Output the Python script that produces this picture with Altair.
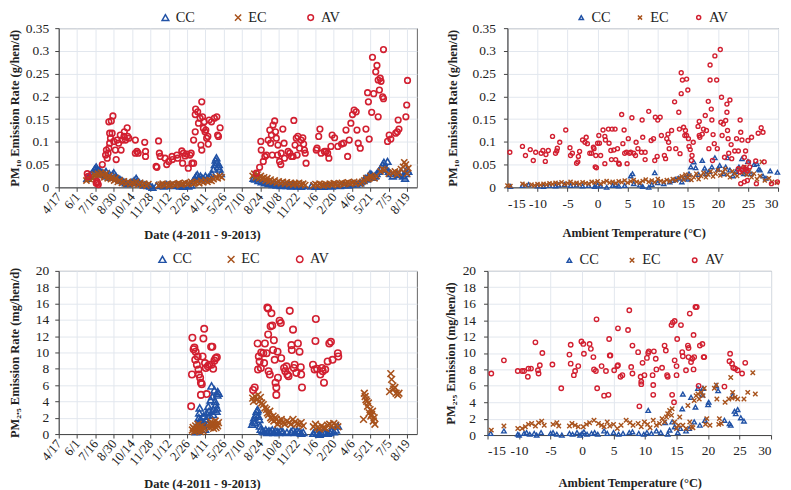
import altair as alt
import pandas as pd

FONT = "Liberation Serif"
SERIES = ["CC", "EC", "AV"]
COLORS = ["#2152a6", "#a8521c", "#d21f30"]
XPATH = "M-1,-1L1,1M-1,1L1,-1"
SHAPES = ["triangle-up", XPATH, "circle"]

# date axis: days since 2011-04-17, ticks every 45 days
DATE_LABELS = ["4/17", "6/1", "7/16", "8/30", "10/14", "11/28", "1/12", "2/26", "4/11", "5/26",
               "7/10", "8/24", "10/8", "11/22", "1/6", "2/20", "4/6", "5/21", "7/5", "8/19"]
DATE_TICKS = [0, 45, 90, 135, 180, 225, 270, 315, 360, 405, 450, 495, 540, 585, 630, 675, 720, 765, 810, 855]
DATE_MAX = 879
TEMP_TICKS = [-15, -10, -5, 0, 5, 10, 15, 20, 25, 30]
PM10_TICKS = [0, 0.05, 0.1, 0.15, 0.2, 0.25, 0.3, 0.35]
PM25_TICKS = [0, 2, 4, 6, 8, 10, 12, 14, 16, 18, 20]

# ---------- PM10 vs date (day, g/hen/d) ----------
pm10_date_cc = [(70,0.02),(75,0.025),(80,0.03),(85,0.035),(88,0.04),(90,0.042),(92,0.045),(95,0.04),(98,0.035),(100,0.038),
    (103,0.03),(106,0.033),(110,0.028),(113,0.03),(116,0.035),(120,0.025),(124,0.03),(128,0.022),(132,0.028),(135,0.032),
    (140,0.025),(145,0.02),(150,0.018),(155,0.015),(160,0.012),(165,0.01),(170,0.008),(175,0.01),(180,0.012),(185,0.015),
    (190,0.02),(193,0.015),(198,0.01),(205,0.008),(210,0.005),(218,0.004),(225,0.003),(230,0.0),(240,0.004),(250,0.005),
    (258,0.003),(265,0.006),(272,0.005),(280,0.004),(290,0.005),(298,0.003),(305,0.002),(312,0.006),(318,0.003),(325,0.005),
    (330,0.015),(334,0.02),(337,0.025),(340,0.028),(344,0.022),(348,0.025),(352,0.02),(356,0.018),(360,0.025),(364,0.02),
    (368,0.022),(372,0.025),(376,0.03),(380,0.04),(383,0.05),(385,0.06),(387,0.065),(389,0.055),(391,0.045),(393,0.05),
    (395,0.04),(398,0.03),
    (478,0.02),(482,0.018),(486,0.022),(490,0.015),(494,0.02),(498,0.012),(502,0.015),(506,0.01),(510,0.012),(515,0.008),
    (520,0.01),(525,0.006),(530,0.008),(535,0.005),(540,0.007),(545,0.004),(550,0.006),(555,0.005),(560,0.004),(565,0.006),
    (570,0.003),(575,0.005),(580,0.004),(585,0.003),(590,0.005),(595,0.002),(600,0.004),(620,0.003),(630,0.002),(640,0.003),
    (650,0.002),(660,0.004),(670,0.003),(680,0.005),(690,0.004),(700,0.006),(710,0.005),(720,0.008),(730,0.007),(740,0.01),
    (748,0.015),(752,0.02),(756,0.018),(760,0.025),(764,0.03),(768,0.028),(772,0.022),(776,0.025),(780,0.03),(785,0.035),
    (790,0.04),(795,0.05),(798,0.055),(800,0.045),(805,0.04),(807,0.057),(810,0.035),(815,0.03),(820,0.025),(830,0.03),
    (835,0.028),(840,0.035),(845,0.025),(850,0.02),(852,0.03),(855,0.04),(858,0.035)]
pm10_date_ec = [(68,0.015),(72,0.02),(76,0.018),(80,0.025),(84,0.02),(88,0.028),(92,0.022),(96,0.03),(100,0.025),(104,0.032),
    (108,0.028),(112,0.022),(116,0.03),(120,0.02),(124,0.025),(128,0.018),(132,0.022),(136,0.015),(140,0.02),(145,0.012),
    (150,0.015),(155,0.01),(160,0.013),(165,0.008),(170,0.012),(175,0.007),(180,0.01),(185,0.008),(190,0.012),(195,0.006),
    (200,0.01),(205,0.005),(210,0.008),(215,0.004),(220,0.007),(245,0.004),(250,0.006),(255,0.008),(260,0.005),(265,0.007),
    (270,0.004),(275,0.006),(280,0.008),(285,0.005),(290,0.007),(295,0.009),(300,0.006),(305,0.008),(310,0.01),(315,0.007),
    (320,0.009),(325,0.012),(330,0.008),(335,0.01),(340,0.012),(345,0.009),(350,0.014),(355,0.011),(360,0.015),(365,0.012),
    (370,0.016),(375,0.014),(380,0.018),(385,0.022),(390,0.02),(395,0.025),(400,0.022),
    (476,0.025),(480,0.03),(484,0.022),(488,0.028),(492,0.02),(496,0.025),(500,0.018),(504,0.022),(508,0.015),(512,0.02),
    (516,0.013),(520,0.017),(525,0.012),(530,0.015),(535,0.01),(540,0.013),(545,0.009),(550,0.012),(555,0.008),(560,0.011),
    (565,0.007),(570,0.01),(575,0.006),(580,0.009),(585,0.007),(590,0.01),(595,0.006),(600,0.008),(605,0.005),(625,0.004),
    (630,0.007),(635,0.005),(640,0.008),(645,0.006),(650,0.004),(655,0.007),(660,0.005),(665,0.008),(670,0.006),(675,0.009),
    (680,0.007),(685,0.005),(690,0.008),(695,0.01),(700,0.007),(705,0.009),(710,0.011),(715,0.008),(720,0.01),(725,0.012),
    (730,0.009),(740,0.008),(745,0.012),(750,0.015),(755,0.02),(760,0.018),(765,0.025),(770,0.022),(775,0.02),(780,0.025),
    (790,0.035),(795,0.04),(800,0.038),(810,0.03),(820,0.032),(825,0.035),(830,0.028),(835,0.032),(840,0.04),(845,0.045),
    (848,0.055),(852,0.05),(855,0.03),(858,0.042)]
pm10_date_av = [(70,0.030),(72,0.024),(92,0.009),(94,0.013),(97,0.006),(95,0.010),(107,0.050),(115,0.071),(117,0.082),(119,0.064),
    (121,0.075),(123,0.086),(125,0.097),(127,0.108),(125,0.119),(123,0.144),(129,0.146),(133,0.157),(131,0.119),(135,0.101),
    (139,0.082),(141,0.061),(143,0.104),(147,0.097),(151,0.115),(153,0.082),(156,0.104),(160,0.112),(161,0.122),(164,0.104),
    (168,0.131),(169,0.112),(172,0.108),(188,0.104),(192,0.079),(195,0.075),(188,0.075),(211,0.099),(213,0.079),(213,0.068),
    (239,0.046),(241,0.044),(245,0.102),(247,0.075),(249,0.068),(261,0.064),(265,0.050),(270,0.057),(278,0.068),(279,0.061),
    (290,0.071),(292,0.064),(302,0.080),(304,0.053),(306,0.075),(310,0.069),(314,0.073),(318,0.042),(322,0.071),(327,0.053),
    (331,0.053),(325,0.075),(331,0.104),(335,0.122),(335,0.160),(336,0.172),(341,0.166),(343,0.141),(347,0.152),(351,0.188),
    (353,0.155),(355,0.130),(357,0.144),(359,0.122),(361,0.126),(363,0.108),(366,0.112),(367,0.095),(351,0.082),(349,0.093),
    (369,0.148),(375,0.144),(382,0.152),(388,0.155),(390,0.115),(392,0.112),(396,0.131),
    (485,0.031),(493,0.044),(497,0.082),(496,0.101),(502,0.057),(506,0.068),(510,0.071),(514,0.104),(518,0.126),(520,0.097),
    (522,0.115),(524,0.071),(526,0.137),(530,0.146),(532,0.122),(534,0.108),(537,0.071),(538,0.093),(542,0.057),(545,0.050),
    (546,0.075),(550,0.128),(553,0.097),(554,0.064),(563,0.079),(567,0.075),(571,0.068),(575,0.068),(577,0.147),(580,0.093),
    (583,0.108),(585,0.071),(587,0.112),(591,0.086),(595,0.104),(599,0.109),(601,0.095),(603,0.082),(605,0.075),(607,0.053),
    (632,0.082),(634,0.086),(638,0.112),(641,0.128),(644,0.075),(652,0.079),(656,0.079),(660,0.075),(663,0.064),(668,0.090),
    (671,0.115),(677,0.109),(685,0.090),(694,0.095),(699,0.097),(705,0.126),(709,0.068),(713,0.104),(717,0.141),(721,0.160),
    (725,0.170),(730,0.166),(732,0.126),(735,0.097),(740,0.086),(754,0.128),(758,0.208),(760,0.188),(762,0.106),(768,0.165),
    (770,0.286),(773,0.206),(778,0.254),(781,0.268),(784,0.236),(787,0.214),(789,0.240),(791,0.233),(795,0.199),(797,0.195),
    (784,0.155),(797,0.303),(807,0.101),(811,0.115),(815,0.106),(827,0.119),(831,0.122),(835,0.128),(833,0.148),(852,0.155),
    (854,0.181),(856,0.235)]

# ---------- PM10 vs ambient temperature (deg C, g/hen/d) ----------
pm10_temp_cc = [(-14.5,0.002),(-12.5,0.004),(-11.5,0.006),(-10,0.003),(-9,0.002),(-8,0.004),(-7,0.003),(-6.5,0.005),(-5.5,0.006),
    (-4.5,0.004),(-3.5,0.005),(-2.5,0.003),(-1.5,0.004),(-0.5,0.002),(0,0.005),(0.5,0.003),(1.5,0.0),(2.5,0.004),(3,0.006),
    (3.5,0.003),(4.5,0.004),(5.5,0.025),(5.8,0.03),(6,0.008),(7,0.005),(7.5,0.002),(8.5,0.0),(9.5,0.032),(9,0.006),(10,0.01),
    (11,0.008),(12,0.012),(12.5,0.015),(13,0.018),(13.5,0.02),(14,0.012),(14.5,0.022),(15,0.018),(15.5,0.045),(16,0.056),
    (16.3,0.043),(16.8,0.028),(17.4,0.059),(17.8,0.042),(18.5,0.035),(19,0.045),(19.5,0.065),(20,0.04),(20.3,0.048),(21,0.03),
    (21.6,0.065),(22,0.038),(22.5,0.025),(23,0.035),(23.5,0.045),(24,0.063),(24.5,0.04),(25,0.057),(25.5,0.03),(26,0.05),
    (26.5,0.052),(27,0.038),(27.5,0.025),(28,0.02),(28.7,0.036),(29.9,0.033),(15.2,0.03),(18,0.03),(21.3,0.045),(24.3,0.03),
    (26.8,0.04)]
pm10_temp_ec = [(-15,0.004),(-14.5,0.003),(-12.5,0.008),(-12,0.005),(-11,0.006),(-10.5,0.004),(-10,0.007),(-9.5,0.005),(-9,0.008),
    (-8.5,0.006),(-8,0.009),(-7.5,0.007),(-7,0.01),(-6.5,0.008),(-6,0.011),(-5.5,0.007),(-5,0.009),(-4.5,0.012),(-4,0.008),
    (-3.5,0.01),(-3,0.007),(-2.5,0.011),(-2,0.009),(-1.5,0.008),(-1,0.012),(-0.5,0.01),(0,0.013),(0.5,0.008),(1,0.011),
    (1.5,0.014),(2,0.01),(2.5,0.012),(3,0.009),(3.5,0.013),(4,0.011),(4.5,0.015),(5,0.01),(5.5,0.013),(6,0.016),(6.5,0.012),
    (7,0.01),(7.5,0.014),(8,0.017),(8.5,0.012),(9,0.015),(9.5,0.011),(10,0.018),(10.5,0.014),(11,0.012),(11.5,0.016),
    (12,0.013),(12.5,0.018),(13,0.015),(13.5,0.02),(14,0.024),(14.3,0.017),(14.6,0.028),(15,0.021),(15.3,0.026),(15.6,0.016),
    (16,0.022),(16.4,0.03),(16.8,0.018),(17.2,0.025),(17.6,0.032),(18,0.022),(18.4,0.028),(18.8,0.035),(19.2,0.024),
    (19.6,0.03),(20,0.038),(20.4,0.026),(20.8,0.033),(21.2,0.04),(21.6,0.028),(22,0.022),(22.4,0.035),(22.8,0.03),
    (23.2,0.025),(23.6,0.04),(24,0.032),(24.4,0.045),(24.8,0.028),(25.2,0.035),(25.6,0.022),(26,0.03),(26.5,0.018),
    (27,0.025),(27.3,0.056),(27.8,0.015),(28.5,0.02),(29,0.012),(29.8,0.01)]
pm10_temp_av = [(-14.6,0.077),(-12.5,0.090),(-12.0,0.070),(-11.2,0.083),(-10.7,0.059),(-10.3,0.077),(-9.4,0.075),(-9.1,0.081),
    (-8.7,0.057),(-8.6,0.072),(-8.2,0.081),(-7.5,0.112),(-7.0,0.075),(-6.8,0.080),(-6.7,0.086),(-6.3,0.099),(-5.3,0.126),
    (-4.6,0.087),(-4.5,0.070),(-4.2,0.075),(-3.5,0.053),(-3.3,0.056),(-3.2,0.068),(-3.0,0.079),(-2.5,0.104),(-2.1,0.099),
    (-1.9,0.110),(-1.7,0.096),(-1.3,0.075),(-1.0,0.075),(-0.7,0.088),(-0.6,0.085),(-0.4,0.045),(-0.2,0.043),(-0.3,0.070),
    (0.0,0.097),(0.2,0.114),(0.3,0.097),(0.5,0.070),(0.9,0.126),(1.2,0.112),(1.3,0.104),(1.2,0.052),(1.8,0.128),(1.9,0.097),
    (2.2,0.081),(2.3,0.061),(2.4,0.128),(2.7,0.082),(2.9,0.128),(3.0,0.061),(3.3,0.085),(3.5,0.053),(3.6,0.051),(4.0,0.160),
    (4.2,0.096),(4.4,0.126),(4.5,0.075),(4.8,0.077),(4.9,0.052),(5.1,0.107),(5.3,0.075),(5.5,0.077),(5.7,0.153),(6.0,0.075),
    (6.3,0.070),(6.4,0.099),(6.7,0.085),(7.4,0.148),(7.5,0.110),(7.3,0.077),(7.9,0.061),(8.5,0.167),(7.9,0.077),(8.9,0.103),
    (9.3,0.107),(9.5,0.059),(9.6,0.154),(9.9,0.068),(10.0,0.148),(10.4,0.154),(10.6,0.114),(11.1,0.070),(11.3,0.063),
    (11.5,0.107),(11.7,0.117),(11.8,0.099),(11.9,0.085),(12.3,0.125),(12.8,0.188),(13.0,0.085),(13.5,0.165),(13.6,0.128),
    (13.7,0.074),(13.9,0.252),(13.9,0.206),(14.1,0.236),(14.3,0.132),(14.5,0.114),(14.6,0.125),(14.8,0.238),(15.0,0.214),
    (14.8,0.114),(15.1,0.107),(15.2,0.090),(15.4,0.083),(15.6,0.059),(15.7,0.070),(15.9,0.099),(16.7,0.134),(16.9,0.145),
    (16.9,0.114),(17.0,0.110),(17.4,0.117),(17.6,0.128),(17.9,0.158),(18.1,0.125),(18.4,0.189),(18.5,0.085),(18.7,0.269),
    (18.7,0.236),(18.9,0.172),(19.0,0.148),(19.1,0.059),(19.2,0.116),(19.4,0.096),(19.5,0.289),(19.8,0.236),(19.9,0.085),
    (20.4,0.303),(20.5,0.143),(20.6,0.198),(20.7,0.114),(20.9,0.139),(21.1,0.066),(21.3,0.147),(21.5,0.183),(21.5,0.165),
    (21.6,0.125),(21.7,0.107),(21.8,0.075),(22.0,0.192),(22.2,0.094),(22.3,0.063),(22.8,0.080),(23.1,0.107),(23.4,0.080),
    (23.7,0.148),(23.8,0.121),(24.0,0.104),(24.4,0.066),(24.6,0.080),(25.0,0.103),(25.1,0.056),(25.3,0.045),(25.6,0.110),
    (26.3,0.058),(26.7,0.119),(27.2,0.131),(27.5,0.121),(27.7,0.056),(23.8,0.008),(24.4,0.012),(24.9,0.015),(26.4,0.008),
    (28.9,0.008),(29.9,0.012),(23.4,0.041),(23.7,0.034),(24.0,0.038),(24.3,0.044),(24.6,0.040),(24.9,0.036)]

# ---------- PM2.5 vs date (day, mg/hen/d) ----------
pm25_date_cc = [(335,0.8),(337,0.3),(339,0.4),(341,1.0),(343,1.2),(344,2.0),(345,2.6),(346,3.2),(347,1.8),(349,0.6),(351,1.6),
    (353,1.1),(355,2.2),(357,1.4),(359,0.6),(361,1.8),(363,2.6),(365,1.2),(367,3.4),(369,2.8),(371,2.3),(373,4.2),(375,5.9),
    (377,4.6),(379,2.4),(380,3.0),(382,5.4),(384,4.0),(385,3.6),(387,2.8),(388,3.2),(389,4.8),(390,5.2),(392,5.0),
    (475,1.2),(478,1.6),(480,2.0),(482,1.4),(484,2.4),(486,2.8),(488,3.0),(490,2.2),(492,1.8),(494,1.0),(496,0.6),(500,0.4),
    (504,0.3),(508,0.5),(512,0.2),(516,0.4),(520,0.3),(524,0.5),(528,0.2),(532,0.4),(536,0.3),(540,0.2),(545,0.4),(550,0.3),
    (560,0.2),(570,0.3),(575,0.5),(580,0.2),(585,0.4),(590,0.3),(595,0.1),(600,0.2),(625,0.1),(630,0.3),(635,0.2),(640,0.0),
    (645,0.1),(650,0.3),(655,0.2),(660,0.1),(665,0.2),(670,0.4),(675,0.3),(680,0.5),(685,1.0)]
pm25_date_ec = [(328,0.5),(330,0.8),(332,0.3),(334,0.6),(336,1.0),(338,0.4),(340,0.7),(342,1.2),(344,0.5),(346,0.9),(348,0.3),
    (350,0.6),(352,1.0),(354,0.4),(356,0.7),(370,0.8),(372,1.2),(374,1.5),(376,0.9),(378,1.3),(380,0.7),(382,1.1),(384,1.6),
    (386,0.8),(388,1.2),(390,1.0),(392,1.4),
    (476,4.4),(478,4.0),(482,4.6),(486,4.2),(489,4.8),(492,4.0),(495,4.5),(498,3.8),(502,3.6),(506,3.2),(510,3.0),(512,2.6),
    (515,2.4),(518,2.8),(520,2.0),(523,1.8),(526,2.2),(528,1.6),(531,2.0),(534,1.8),(537,1.2),(540,1.6),(543,1.4),(546,1.8),
    (550,1.4),(555,1.2),(560,1.6),(565,1.4),(570,1.2),(575,1.8),(580,1.5),(585,1.3),(590,1.2),(595,1.4),(600,1.0),(625,0.9),
    (630,1.2),(635,0.8),(640,0.6),(645,1.0),(650,0.8),(655,0.7),(660,1.1),(665,1.2),(670,1.0),(675,1.3),(680,1.1),(685,0.9),
    (748,1.8),(750,5.0),(752,4.6),(754,4.2),(756,4.0),(758,3.4),(760,3.8),(762,2.6),(764,3.0),(766,2.2),(768,2.4),(770,2.8),
    (772,1.6),(774,2.0),(776,1.2),
    (812,5.2),(815,7.4),(817,6.7),(820,5.9),(822,5.5),(825,5.7),(828,5.0),(832,4.8),(835,5.0)]
pm25_date_av = [(325,3.4),(327,7.3),(328,11.8),(331,10.4),(333,10.6),(335,9.1),(336,10.1),(339,8.5),(341,9.5),(343,7.9),
    (344,7.3),(347,6.9),(349,6.3),(351,6.1),(349,4.8),(353,9.5),(355,11.7),(357,12.9),(359,8.7),(361,8.1),(363,4.9),(366,8.3),
    (369,8.5),(374,10.7),(377,10.7),(379,8.0),(382,9.0),(385,9.3),(388,9.4),(375,8.5),
    (477,5.4),(481,5.7),(488,11.1),(489,7.9),(491,9.5),(493,8.9),(496,8.1),(497,10.0),(502,9.9),(504,8.7),(506,11.1),(510,9.9),
    (512,15.5),(514,15.4),(514,12.2),(515,7.7),(518,7.3),(520,13.2),(522,14.8),(524,13.3),(526,10.3),(528,11.5),(530,9.1),
    (532,6.3),(534,5.7),(534,4.8),(537,10.1),(538,6.9),(542,13.9),(545,13.6),(546,9.3),(553,8.1),(556,7.7),(559,8.3),(561,7.3),
    (564,7.1),(567,15.1),(571,10.9),(572,10.3),(575,12.8),(577,8.1),(579,8.5),(583,7.5),(587,11.1),(591,10.1),(594,8.2),
    (595,7.3),(597,5.7),(624,8.5),(628,7.9),(630,11.4),(631,14.1),(634,8.0),(642,7.3),(646,8.1),(648,7.7),(651,6.3),(654,7.9),
    (660,8.9),(664,11.1),(668,11.3),(672,9.1),(685,9.9),(686,9.5)]

# ---------- PM2.5 vs ambient temperature (deg C, mg/hen/d) ----------
pm25_temp_cc = [(-14.5,0.2),(-12.4,0.5),(-10.2,0.1),(-10,0.0),(-9.2,0.2),(-8.8,0.3),(-8.3,0.1),(-7.6,0.2),(-7.2,0.0),(-6.5,0.3),
    (-5.0,0.2),(-4.6,0.3),(-4.0,0.1),(-3.2,0.0),(-2.0,0.2),(-1.5,0.1),(-0.8,0.3),(-0.3,0.0),(0,0.2),(0.3,0.4),(0.8,0.1),
    (1.5,0.2),(2.0,0.3),(2.5,0.1),(3.5,0.5),(4.0,0.2),(5.0,0.3),(5.8,0.1),(6.5,0.2),(7.5,0.3),(8.0,0.4),(9.0,0.2),(9.8,0.1),
    (10.5,3.0),(10.3,0.3),(11.0,0.2),(11.8,0.5),(12.5,0.3),(13.2,1.5),(13.6,0.1),(13.9,0.6),(14.3,1.6),(14.7,1.0),(15.2,0.3),
    (15.6,0.8),(15.9,3.2),(16.0,5.0),(16.5,0.5),(17.0,0.8),(17.3,4.6),(17.8,1.6),(18.0,3.4),(18.4,5.7),(18.7,1.2),(19.1,4.9),
    (19.2,5.7),(19.5,1.8),(20.0,3.7),(20.1,4.0),(21.3,6.0),(21.6,5.4),(22.6,1.8),(23.4,1.4),(23.6,1.2),(23.9,4.8),(24.2,2.9),
    (24.4,2.6),(24.7,3.1),(25.2,2.1),(25.7,1.7)]
pm25_temp_ec = [(-14.4,0.6),(-12.4,1.1),(-10.2,0.8),(-9.5,0.8),(-9.0,1.0),(-8.5,1.3),(-8.0,1.4),(-7.4,1.1),(-6.9,1.5),(-6.4,1.7),
    (-6.0,1.2),(-4.6,1.3),(-4.0,1.5),(-3.7,1.1),(-2.0,1.1),(-1.6,1.4),(-1.1,1.2),(-0.6,1.0),(0.2,1.0),(0.7,1.3),(1.2,1.5),
    (1.9,1.8),(2.6,1.4),(3.1,1.2),(3.5,1.0),(4.0,1.6),(4.4,1.1),(5.0,1.3),(5.6,0.8),(6.2,1.2),(7.0,1.8),(7.6,1.5),(8.1,1.2),
    (8.9,1.4),(9.4,1.0),(9.9,1.6),(10.4,1.3),(10.8,0.9),(11.3,1.8),(11.8,1.2),(12.3,1.4),(12.7,2.0),(13.1,1.6),(13.4,2.2),
    (13.6,2.6),(13.9,3.0),(14.2,2.4),(14.3,3.2),(14.7,1.6),(15.0,0.8),(15.3,1.2),(15.5,2.2),(16.0,1.2),(16.5,0.8),(16.8,3.6),
    (17.1,1.6),(17.4,1.0),(17.6,0.9),(17.8,4.2),(18.1,4.8),(18.4,5.0),(18.6,4.4),(18.9,5.2),(19.2,4.8),(19.4,5.7),(19.6,1.3),
    (19.8,2.0),(20.3,1.2),(21.0,5.7),(21.3,6.1),(21.4,4.4),(21.8,2.0),(22.1,1.4),(22.7,4.0),(23.3,4.4),(23.6,7.0),(23.8,4.5),
    (23.9,5.2),(24.3,4.6),(24.7,4.4),(25.7,4.4),(26.3,5.2),(27.1,7.6),(27.5,5.0),(21.7,1.3)]
pm25_temp_av = [(-14.4,7.5),(-12.4,9.1),(-10.2,7.8),(-9.5,7.8),(-9.2,7.8),(-8.6,7.1),(-8.5,8.1),(-8.1,8.1),(-7.4,11.3),(-7.0,7.9),
    (-6.9,7.5),(-6.7,8.5),(-6.3,10.0),(-4.7,8.6),(-3.3,5.7),(-2.0,9.8),(-1.8,11.0),(-1.8,8.7),(-1.3,7.3),(-1.1,7.8),(-0.6,8.4),
    (-0.1,11.4),(0.2,11.1),(0.3,9.9),(1.2,11.1),(1.4,10.5),(1.8,9.5),(1.9,8.0),(2.2,7.8),(2.3,14.1),(2.4,5.7),(3.1,8.4),
    (3.5,4.8),(3.8,7.8),(4.2,4.9),(4.3,11.7),(4.4,9.7),(4.5,9.7),(5.1,7.9),(5.6,8.4),(5.7,13.0),(5.7,8.5),(6.1,7.1),(6.4,7.3),
    (7.3,12.8),(7.5,15.2),(7.8,8.3),(8.0,10.9),(8.0,7.5),(8.9,10.1),(9.1,3.5),(9.3,7.1),(9.4,6.5),(9.4,6.2),(9.6,8.8),(9.9,7.3),
    (10.3,9.4),(10.5,10.0),(10.6,10.2),(11.2,7.3),(11.3,6.1),(11.3,4.9),(11.4,10.2),(11.7,9.3),(11.8,8.0),(12.7,8.2),(13.1,10.9),
    (13.3,10.3),(13.5,7.3),(13.6,7.1),(14.2,13.4),(14.3,4.9),(14.4,13.7),(14.6,4.0),(14.7,13.9),(14.7,9.1),(15.0,7.3),(15.0,8.4),
    (15.1,11.7),(15.7,13.4),(15.9,10.1),(16.0,9.6),(16.5,7.9),(16.8,10.9),(16.9,10.6),(16.9,9.5),(17.1,14.8),(17.3,8.9),
    (17.5,9.3),(17.7,12.2),(17.7,8.0),(17.8,9.5),(18.0,15.6),(18.2,15.6),(18.5,6.0),(18.7,10.9),(19.1,11.1),(19.3,9.5),
    (19.4,9.5),(22.6,5.9),(23.5,9.9),(23.4,9.0),(23.8,8.7),(24.0,8.2),(24.3,8.1),(24.7,7.9),(25.4,7.5),(25.9,8.8)]


def frame(cc, ec, av):
    rows = []
    for name, pts in zip(SERIES, [cc, ec, av]):
        for x, y in pts:
            rows.append({"x": x, "y": y, "series": name})
    return pd.DataFrame(rows)


DATE_EXPR = "[" + ",".join("'" + s + "'" for s in DATE_LABELS) + "][round(datum.value / 45)]"
TEMP_EXPR = "(datum.value < 0 ? '-' : '') + abs(datum.value)"


def date_axis(title_y):
    return alt.Axis(values=DATE_TICKS, labelExpr=DATE_EXPR, labelAngle=310, labelAlign="right",
                    labelBaseline="middle", labelPadding=3, labelFontSize=13, labelOverlap=False,
                    title="Date (4-2011 - 9-2013)",
                    titleX=144, titleY=title_y, titleBaseline="middle", titleAlign="center")


def temp_axis(title_x, title_y):
    return alt.Axis(values=TEMP_TICKS, labelExpr=TEMP_EXPR, labelPadding=5, labelOverlap=False,
                    title="Ambient Temperature (°C)",
                    titleX=title_x, titleY=title_y, titleBaseline="middle", titleAlign="center")


def y_axis(values, fmt, title, tx, h, pad):
    return alt.Axis(values=values, format=fmt, title=title, titleX=tx, titleY=h / 2, titleAngle=270,
                    titleBaseline="middle", titleAlign="center", labelPadding=pad, labelOverlap=False)


def panel(df, xscale, xaxis, ydomain, yaxis, sizes, sw, legend, w, h):
    return alt.Chart(df).mark_point(filled=False, strokeWidth=sw, opacity=1).encode(
        x=alt.X("x:Q", scale=xscale, axis=xaxis),
        y=alt.Y("y:Q", scale=alt.Scale(domain=ydomain, nice=False, zero=False), axis=yaxis),
        color=alt.Color("series:N", scale=alt.Scale(domain=SERIES, range=COLORS), legend=legend),
        shape=alt.Shape("series:N", scale=alt.Scale(domain=SERIES, range=SHAPES), legend=legend),
        size=alt.Size("series:N", scale=alt.Scale(domain=SERIES, range=sizes), legend=None),
    ).properties(width=w, height=h)


def legend(lx, ly, ssize, pad):
    return alt.Legend(title=None, orient="none", legendX=lx, legendY=ly, direction="horizontal",
                      labelFont=FONT, labelFontSize=14.5, labelColor="#222", symbolSize=ssize,
                      symbolStrokeWidth=1.5, columnPadding=pad, labelOffset=3)


date_scale = alt.Scale(domain=[0, DATE_MAX], nice=False, zero=False)
temp_scale = alt.Scale(domain=[-15, 30], nice=False, zero=False)

tl = panel(frame(pm10_date_cc, pm10_date_ec, pm10_date_av), date_scale, date_axis(47),
           [0, 0.35], y_axis(PM10_TICKS, ".2~f", "PM₁₀ Emission Rate (g/hen/d)", -44, 160, 6),
           [45, 32, 60], 1.6, legend(100, -18, 55, 36), 360, 160)
tr = panel(frame(pm10_temp_cc, pm10_temp_ec, pm10_temp_av), temp_scale, temp_axis(127, 45),
           [0, 0.35], y_axis(PM10_TICKS, ".2~f", "PM₁₀ Emission  Rate (g/hen/d)", -55, 160, 8),
           [18, 16, 16], 1.4, legend(67, -18, 20, 22), 272, 160)
bl = panel(frame(pm25_date_cc, pm25_date_ec, pm25_date_av), date_scale, date_axis(50),
           [0, 20], y_axis(PM25_TICKS, "d", "PM₂.₅ Emission Rate (mg/hen/d)", -44, 164, 6),
           [50, 42, 60], 1.6, legend(97, -19, 55, 32), 360, 164)
br = panel(frame(pm25_temp_cc, pm25_temp_ec, pm25_temp_av), temp_scale, temp_axis(143, 48),
           [0, 20], y_axis(PM25_TICKS, "d", "PM₂.₅ Emission (mg/hen/d)", -37, 165, 8),
           [20, 20, 18], 1.4, legend(75, -18, 20, 26), 285, 165)

top = alt.hconcat(tl, tr, spacing=28).resolve_scale(color="independent", shape="independent", size="independent",
                                                     x="independent", y="independent")
bottom = alt.hconcat(bl, br, spacing=26).resolve_scale(color="independent", shape="independent", size="independent",
                                                        x="independent", y="independent")

chart = alt.vconcat(top, bottom, spacing=10).resolve_scale(
    color="independent", shape="independent", size="independent", x="independent", y="independent"
).resolve_legend(color="independent", shape="independent", size="independent").properties(
    padding=0
).configure_view(stroke="#666666", strokeWidth=1).configure_axis(
    labelFont=FONT, labelFontSize=13.5, labelColor="#222222", titleFont=FONT, titleFontSize=12.5,
    titleFontWeight="bold", titleColor="#222222", gridColor="#e2e7ee", gridWidth=1, domainColor="#444444",
    tickColor="#444444", tickSize=4
)

chart.save("out.html", embed_options={"renderer": "svg", "actions": False})
